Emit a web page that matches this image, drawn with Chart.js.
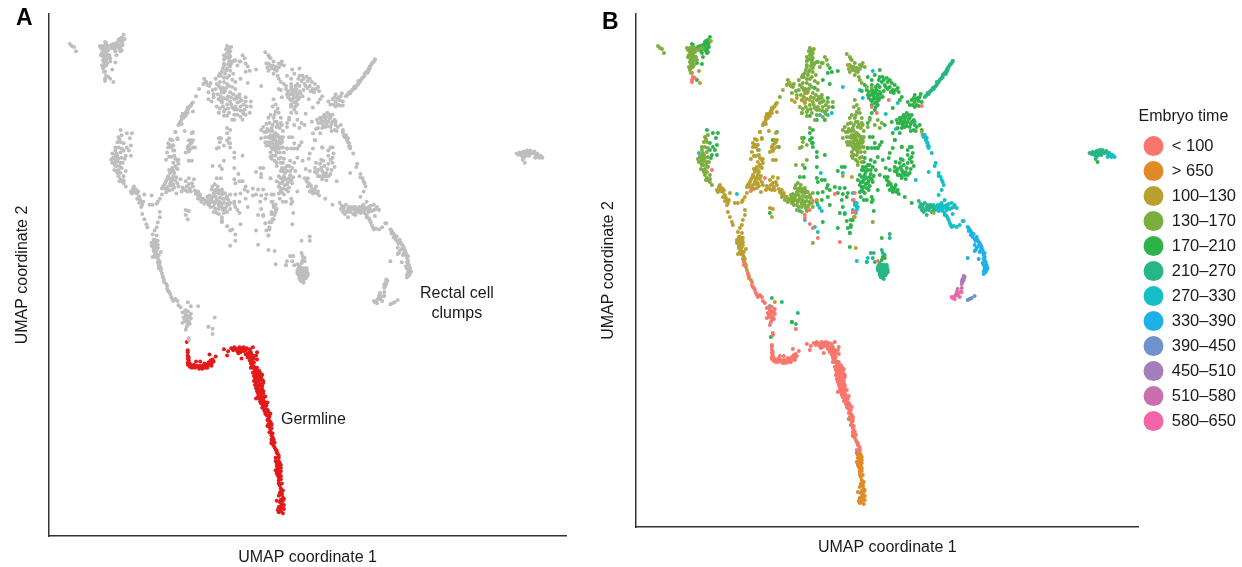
<!DOCTYPE html>
<html>
<head>
<meta charset="utf-8">
<script src="https://cdn.jsdelivr.net/npm/chart.js@4"></script>
<style>
  html, body { margin: 0; background: #fff; overflow: hidden; }
  canvas { position: absolute; top: 0; }
  #chartA { left: 0; }
  #chartB { left: 590px; }
  .note { position: absolute; font: 16px "Liberation Sans", Arial, sans-serif; color: #1a1a1a; text-align: center; line-height: 20px; }
  .tag { position: absolute; font: bold 23px "Liberation Sans", Arial, sans-serif; color: #000; }
</style>
</head>
<body>
<canvas id="chartA" width="600" height="567"></canvas>
<canvas id="chartB" width="656" height="567"></canvas>
<div class="tag" style="left:16px;top:4px">A</div>
<div class="tag" style="left:602px;top:8px">B</div>
<div class="note" style="left:420px;top:283px">Rectal cell<br>clumps</div>
<div class="note" style="left:281px;top:409px">Germline</div>
<script>
const timeLabels = ["< 100", "> 650", "100–130", "130–170", "170–210", "210–270", "270–330", "330–390", "390–450", "450–510", "510–580", "580–650"];
const timeColors = ["#F8766D", "#E08B27", "#B8A030", "#7CAE3F", "#2DB34A", "#26B784", "#16BFC6", "#20B0E8", "#6F91CE", "#A47DBB", "#C86FAC", "#F564A6"];

// umap coordinates, germline is everything below y = 192
const germlineMaxY = 192;

const under100 = [[57,450],[59,449],[56,447],[56,445],[76,357],[115,336],[129,349],[108,265],[108,262],[112,254],[115,247],[117,240],[119,237],[120,234],[122,230],[126,230],[127,226],[129,224],[131,219],[136,220],[139,218],[134,217],[132,214],[136,214],[139,213],[134,210],[137,210],[131,209],[136,207],[134,202],[137,194],[137,192],[160,198],
[136,182],[136,177],[136,174],[136,170],[136,168],[139,167],[141,166],[144,171],[148,171],[146,166],[149,165],[152,166],[155,167],[157,168],[159,169],[161,171],[163,176],[157,178],[158,172],[156,170],[137,169],[151,167],[171,183],[175,181],[174,177],[180,182],[182,184],[186,185],[189,184],[184,181],[187,180],[192,182],[196,180],[199,185],[203,180],[188,174],[194,175],[196,172],[197,169],[199,165],[201,162],[202,159],[206,160],[201,155],[204,154],[207,155],[202,150],[206,149],[209,150],[204,144],[208,144],[199,177],[200,170],
[197,165],[201,162],[203,165],[201,157],[204,159],[207,157],[202,153],[206,154],[209,152],[204,147],[207,145],[203,142],[209,142],[206,139],[202,135],[211,137],[207,134],[213,131],[209,128],[211,125],[213,124],[216,120],[212,119],[214,115],[216,112],[217,109],[216,105],[217,99],[219,95],[217,92],[222,84],[224,79],[221,77],
[199,333],[217,327],[177,326],[169,312],[169,309],[174,317],[174,303],[177,299],[182,289],[204,285],[219,334],[217,315],[253,427],[236,420],[241,414],[286,421],[218,327],[219,315],[242,266],
[198,168],[200,166],[202,163],[203,160],[205,162],[199,160],[200,157],[203,156],[205,157],[208,158],[200,152],[203,151],[205,152],[208,153],[201,148],[203,148],[206,148],[208,147],[202,145],[205,143],[207,142],[204,140],[206,141],[209,140],[204,137],[208,137],[205,135],[209,135],[206,132],[208,131],[210,132],[207,130],[210,129],[212,128],[208,126],[210,123],[212,122],[214,122],[211,120],[213,118],[215,117],[213,114],[215,113],[214,110],[217,110],[215,107],[217,106],[216,102],[218,101],[218,97],[217,95],[220,92],[219,89],[220,87],[222,82],[223,81],
[137,172],[138,169],[138,166],[140,165],[142,168],[143,165],[145,167],[147,164],[148,167],[150,164],[152,169],[153,165],[154,168],[155,165],[157,170],[159,167],[160,173],[137,175],[136,180],
[178,184],[181,185],[183,183],[185,183],[187,183],[188,182],[190,185],[185,179],[190,181],[192,178],[193,184],[195,177],[194,179],[197,175],[198,172],[200,174],[202,177],[203,173],[196,183],
[121,232],[124,232],[133,220],[135,216],[138,216],[133,212],[135,211],[138,208],[135,205],[116,242],[118,239],[113,251]];

const over650 = [[224,74],[222,69],[226,67],[224,64],[221,65],[223,60],[226,59],[224,55],[227,52],[226,44],[227,41],[224,40],[229,37],[226,36],[222,35],[227,32],[229,31],[224,29],[226,25],[228,23],[223,26],[222,72],[226,70],[224,52],
[223,71],[225,72],[224,68],[223,66],[226,64],[222,62],[225,61],[224,58],[226,56],[225,50],[226,47],[228,45],[225,43],[228,38],[225,34],[228,35],[226,30],[229,27],[224,24],[227,28]];

const t100to130 = [[63,456],[64,444],[75,486],[55,454],[141,424],[139,421],[137,419],[136,417],[134,414],[132,412],[131,410],[130,407],[128,404],[136,414],[132,409],[141,415],[124,395],[133,396],[140,394],[126,389],[121,387],[119,382],[117,380],[121,382],[137,382],[139,387],[136,380],[141,380],
[84,342],[86,339],[82,335],[87,335],[89,332],[91,327],[92,324],[87,330],[84,337],[81,337],[94,334],[91,322],[99,324],[102,324],[106,325],[107,327],[109,330],[111,334],[92,315],[94,310],[96,305],[97,302],[109,317],[109,312],[107,307],[106,302],[104,299],[102,295],[103,290],[106,289],[101,287],[104,285],[107,285],[102,284],[106,294],
[104,290],[107,289],[102,287],[106,285],[101,284],[105,282],[103,279],[110,278],[106,276],[102,273],[107,272],[107,268],[109,264],[110,260],[111,257],[112,253],[106,280],[108,270],[104,275],[113,249],[116,245],[139,225],[197,179],
[124,395],[119,388],[126,388],[117,384],[122,382],[116,375],[115,368],[124,369],[122,365],[126,367],[127,364],[124,362],[121,360],[122,357],[119,355],[126,359],[117,352],[122,352],[121,349],[116,349],[119,345],[114,345],[112,342],[117,342],[122,344],[111,340],[116,339],[121,339],[125,335],[126,345],[127,342],
[137,382],[136,379],[134,375],[139,384],[141,387],[137,367],[140,367],[137,350],[134,347],[142,349],[137,344],[141,342],[132,339],[130,337],[136,337],[139,337],[144,335],[148,334],[151,330],[134,319],[137,318],[136,310],
[216,350],[207,351],[219,310],[181,327],[147,437],[154,444],[156,427],[161,429],[166,427],[169,425],[159,425],[168,426],[169,434],[174,427],[212,462],[286,395],[220,279],[218,310],[298,314],
[138,420],[136,419],[135,416],[133,413],[131,413],[133,411],[130,410],[129,405],[130,403],[127,402],[140,423],[134,411],[83,340],[85,336],[88,337],[90,329],[93,327],[89,326],[103,288],[105,287],[103,283],[105,283],[107,282],[103,281],[105,278],[108,275],[105,273],[109,268],[108,266],[110,262],
[118,358],[120,358],[123,355],[125,351],[118,350],[120,347],[124,348],[115,347],[113,343],[118,338],[114,340],[120,343],[123,341],[118,371],[120,371],[123,372],[125,360],[127,368],[120,380],[122,377],[135,342],[138,340],[143,338],[146,337],[148,331],[131,341],[134,338],[140,345],[138,378],[137,376],[140,385]];

const t130to170 = [[22,481],[24,479],[26,478],[28,474],[51,479],[54,479],[54,475],[56,472],[54,469],[57,474],[59,475],[57,469],[54,465],[57,465],[61,467],[56,462],[57,460],[54,457],[59,479],[66,479],[67,479],[56,454],[57,480],[53,472],
[69,390],[71,385],[69,380],[66,377],[64,370],[63,365],[66,362],[67,357],[69,352],[71,349],[74,345],[76,342],[71,365],[72,360],[69,369],[67,374],[72,370],[74,352],[72,379],[66,367],[67,362],
[144,335],[146,330],[149,327],[152,325],[156,324],[161,322],[166,320],[169,322],[172,320],[164,329],[159,330],[161,335],[166,335],[169,334],[172,330],[162,344],[159,339],[164,339],[169,339],[174,332],[157,325],[162,325],[167,327],[171,326],[156,329],[166,315],[171,316],[161,317],[174,325],[177,320],[160,362],[167,362],[171,367],[177,334],[166,389],[164,379],[177,284],
[174,479],[176,477],[177,474],[174,472],[177,469],[172,467],[176,464],[179,464],[171,462],[174,457],[177,459],[169,454],[172,452],[176,450],[181,465],[189,470],[191,467],[187,464],[192,462],[184,460],[166,450],[167,444],[171,444],[166,440],[176,440],[172,435],[177,434],[182,437],[186,432],[181,427],[184,424],[177,425],[174,422],[169,424],[166,427],[187,420],[191,417],[184,417],[179,419],[172,417],[166,414],[181,412],[186,429],[192,425],[197,425],[169,434],[180,452],[182,444],
[171,470],[171,460],[167,452],[152,447],[151,442],[157,440],[164,442],[156,434],[161,432],[167,439],[144,430],[166,414],[171,415],[171,434],[174,399],[167,385],[171,382],[166,380],
[211,473],[214,470],[216,467],[219,464],[214,462],[227,464],[224,462],[221,459],[229,460],[214,455],[219,452],[224,447],[222,455],[217,457],
[219,427],[221,422],[221,415],[224,414],[226,409],[219,409],[214,409],[222,405],[226,404],[209,400],[207,397],[212,395],[217,399],[222,400],[227,402],[211,390],[216,392],[221,394],[226,390],[214,385],[219,387],[224,385],[227,385],[217,380],[222,380],[212,382],[226,380],[207,389],[242,407],[239,402],[234,407],[246,404],[232,400],[244,399],[231,440],[236,439],
[219,392],[224,390],[217,385],[222,384],[227,387],[219,380],[224,379],[216,375],[221,372],[222,362],[226,365],[229,375],[217,369],[219,390],[216,389],[221,387],[226,384],[221,377],[237,305],
[197,180],[201,165],[206,138],[213,108],[215,102],[217,91],[221,85],[201,165],[227,42],[224,28],
[52,477],[55,477],[58,477],[55,471],[58,471],[52,470],[55,467],[58,467],[60,470],[55,463],[58,462],[53,460],[55,459],[62,477],[64,478],
[66,372],[68,372],[65,364],[68,366],[70,362],[69,358],[65,358],[71,355],[68,355],[72,347],[70,347],[74,348],[66,380],[71,375],[70,388],[68,385],[67,370],[62,368],[73,365],[72,392],
[146,333],[150,330],[153,328],[155,327],[158,327],[160,327],[163,327],[166,325],[169,325],[158,322],[163,320],[166,323],[170,319],[173,322],[176,324],[160,332],[163,332],[167,331],[170,330],[163,336],[166,338],[160,342],[162,338],[165,342],[168,336],[172,335],[157,333],[155,332],[175,329],[170,336],
[175,475],[178,478],[173,476],[176,471],[174,468],[171,466],[175,461],[178,462],[173,455],[170,457],[168,450],[171,448],[174,448],[177,455],[179,446],[174,442],[168,437],[170,438],[173,438],[163,437],[160,436],[158,443],[155,441],[153,444],[163,447],[165,432],[168,430],[171,428],[175,430],[178,429],[180,432],[183,430],[186,425],[182,420],[175,418],[170,420],[164,420],[167,418],[176,414],[178,422],[188,426],[183,428],[190,422],[193,420],[187,416],[181,417],[171,411],[179,407],[187,410],[190,413],
[215,404],[218,402],[220,405],[223,402],[225,399],[210,395],[213,398],[215,396],[218,396],[220,390],[223,392],[225,387],[218,384],[220,382],[215,382],[223,382],[228,380],[218,378],[222,375],[225,375],[218,372],[216,371],[220,367],[224,369],[222,365],[226,370],[214,390],[211,385],[228,390],[228,396],[220,412],[223,418],[218,420],[216,412],[212,403],
[215,468],[218,460],[220,456],[223,450],[226,444],[216,460],[224,458],[226,461],[213,458]];

const t170to210 = [[56,483],[57,482],[62,480],[67,482],[71,484],[72,487],[74,490],[72,482],[69,480],[66,474],[71,474],[72,475],[67,470],[66,463],[61,464],[69,485],[71,478],[65,476],[61,447],
[71,397],[77,394],[82,394],[80,389],[74,384],[81,382],[77,380],[79,377],[81,372],[76,372],[75,369],[74,377],[134,314],[141,395],[137,387],[143,380],
[167,389],[174,387],[176,384],[177,380],[181,375],[181,370],[189,372],[181,360],[169,359],[164,350],[168,350],[181,349],[189,347],[186,347],[182,345],[191,339],[194,337],[199,340],[204,339],[209,339],[187,335],[182,334],[202,334],[207,333],[212,334],[192,330],[181,325],[186,327],[194,322],[206,327],[207,320],[211,330],[211,306],[204,314],[209,313],[215,300],[217,307],[212,299],[214,294],[202,299],[187,305],[206,360],[209,360],[202,356],[192,342],[156,205],[135,190],
[176,467],[182,465],[186,464],[194,459],[196,455],[192,454],[202,456],[187,447],[194,443],[179,439],[192,429],[197,420],[189,407],[181,407],[174,411],[177,397],[174,394],[176,389],[168,389],[177,384],
[244,450],[247,450],[251,449],[252,445],[256,444],[259,442],[262,439],[263,435],[257,437],[254,440],[249,442],[246,445],[242,442],[239,452],[244,457],[232,450],[236,442],[229,442],[231,437],[236,437],[241,437],[244,435],[237,434],[242,432],[232,432],[247,430],[239,429],[244,429],[235,427],[241,425],[236,422],[242,422],[239,417],[236,414],[234,409],[232,404],[226,436],[257,419],[266,430],[264,427],
[279,432],[276,427],[279,425],[282,429],[286,425],[281,422],[277,422],[284,430],[272,425],[261,407],[264,409],[267,410],[271,414],[274,409],[269,407],[266,405],[272,405],[276,405],[279,402],[267,402],[264,404],[276,412],[256,405],[249,402],[281,400],[264,394],[259,387],[266,380],[257,379],[269,400],[284,402],[286,397],[234,390],[237,390],[239,384],[244,382],[232,379],[236,379],[242,379],[257,394],
[232,379],[239,379],[242,379],[246,385],[259,387],[266,380],[276,380],[277,374],[272,372],[254,374],[253,369],[247,367],[242,370],[239,365],[234,362],[229,369],[227,360],[226,357],[232,357],[237,360],[224,352],[229,352],[234,350],[222,347],[227,345],[232,344],[237,345],[226,340],[231,339],[224,335],[229,334],[242,337],[244,352],[249,350],[251,347],[252,342],[256,340],[259,339],[254,337],[257,335],[261,335],[263,333],[269,330],[276,324],
[259,360],[264,364],[267,367],[272,364],[276,365],[261,355],[266,357],[271,359],[264,352],[269,352],[274,354],[254,357],[250,359],[236,330],[237,327],[231,327],[236,325],[238,316],[215,307],[246,289],[214,294],[214,280],[215,302],[156,205],[247,270],[246,267],[249,269],[462,365],
[68,478],[70,476],[73,480],[70,486],[73,484],[68,482],[64,481],
[233,435],[235,432],[238,431],[240,434],[238,428],[241,429],[243,427],[236,426],[239,424],[233,429],[238,436],[240,420],[245,433],[248,436],[250,440],[252,438],[255,435],[258,434],[260,437],[254,447],[248,447],[243,447],[240,440],[244,440],[236,447],
[262,404],[265,407],[268,405],[270,404],[273,408],[275,403],[278,407],[268,412],[270,410],[273,412],[271,401],[274,400],[266,399],[262,399],[278,397],[280,396],[275,396],[281,428],[283,426],[278,429],[274,422],[283,421],[279,420],[285,433],
[228,357],[230,360],[232,362],[235,357],[228,347],[231,349],[233,346],[236,348],[230,343],[234,341],[228,340],[225,345],[224,342],[227,336],[233,337],[235,353],[230,355],[238,351],[226,350],[228,365],[235,367],[240,357],[225,330],[228,327],
[253,345],[255,343],[257,338],[252,350],[258,336],[260,342],[262,337],
[259,356],[262,358],[265,360],[268,362],[270,355],[272,352],[275,358],[278,361],[262,352],[267,355],[260,365],[265,368],[274,368],[276,370],[272,377],[270,348],[266,349]];

const t210to270 = [[136,229],[146,225],[162,214],[160,203],[254,293],[254,289],[274,380],
[291,432],[294,435],[297,439],[301,442],[304,447],[307,452],[311,457],[314,462],[317,466],[306,449],[309,454],[312,459],[302,444],[299,440],[296,437],[292,434],[289,430],[310,455],[313,460],[307,450],
[283,326],[284,320],[287,319],[291,320],[294,319],[289,324],[297,320],[288,315],[291,312],[296,315],
[242,260],[244,264],[247,262],[251,260],[242,257],[246,259],[249,257],[252,257],[244,254],[247,254],[251,254],[246,250],[249,252],[245,255],[247,256],[248,259],[243,259],[250,255],[251,259],[246,252],[247,249],[235,274],[238,274],[237,269],[239,265],[231,265],[246,277],[247,274],[249,272],
[454,374],[457,375],[461,376],[464,377],[467,377],[471,376],[459,372],[462,374],[466,374],[469,374],[461,370],
[290,431],[293,433],[295,436],[298,438],[300,441],[303,445],[305,448],[308,453],[310,453],[311,455],[312,457],[315,463],[316,464],
[243,256],[244,258],[245,260],[246,262],[247,258],[248,256],[249,260],[250,258],[245,253],[248,251],[250,252],[243,262],[252,255],[247,260],[249,262],[251,262],[245,250],[248,248],[246,256],[244,252],
[285,323],[286,317],[290,317],[293,317],[292,322],[295,322],[298,317],[287,322],
[456,373],[458,374],[460,375],[463,375],[465,376],[468,375],[470,375],[472,374],[463,372],[466,372],[460,368]];

const t270to330 = [[56,464],[63,374],[64,370],[134,221],[123,377],[101,333],[185,354],[207,354],[186,316],[184,319],[182,322],[219,324],[221,320],[217,317],[220,314],[209,314],[164,316],[169,307],[179,300],[182,295],[207,440],[189,415],[184,412],[196,414],[192,412],[301,445],[317,466],[287,392],[291,389],[292,384],[293,379],[279,405],[237,456],[227,429],[224,437],[262,424],[250,413],[260,398],[268,354],[267,352],[229,350],[226,337],[217,334],[221,324],[219,322],[222,320],[221,317],[217,315],[280,347],[249,254],[232,269],[221,266],[231,265],
[287,392],[290,389],[291,385],[293,381],[296,374],[300,364],[299,361],[293,355],[303,354],[305,350],[307,345],[308,342],[306,337],[303,332],
[299,320],[302,322],[306,324],[309,327],[311,322],[307,319],[304,317],[301,319],[311,317],[316,324],[319,322],[321,319],[316,319],[317,313],[309,314],[312,309],[314,304],[316,300],[321,300],[324,302],[327,306],[328,306],[474,374],[477,372],[479,370],[476,370],[473,372],[472,370],
[300,317],[302,320],[304,320],[306,321],[308,321],[305,323],[310,319],[303,316],[307,316],[298,322],[312,320],[313,323],[314,318],[318,320],[309,312],[311,311],[313,307],[315,302],[318,301],[288,390],[289,392],[290,387],[292,381],[303,351],[306,347],[476,372],[478,371],[475,372],[474,371]];

const t330to390 = [[332,300],[334,297],[336,294],[337,290],[341,290],[339,282],[342,287],[344,284],[346,280],[341,279],[339,276],[347,277],[344,275],[349,274],[349,270],[332,269],[343,268],[350,265],[347,264],[351,262],[349,259],[351,257],[348,253],[346,277],
[333,299],[335,296],[335,292],[338,293],[339,288],[340,286],[343,285],[343,281],[345,282],[340,277],[345,277],[347,275],[348,272],[348,268],[349,267],[350,262],[350,260],[348,262],[352,259],[350,255],[348,256],[333,296]];
const t390to450 = [[332,227],[336,229],[339,231],[334,228]];
const t450to510 = [[329,250],[327,248],[327,245],[221,74],[328,247],[328,249],[326,246],[328,251]];
const t510to580 = [[326,243],[322,238],[326,239],[320,232]];
const t580to650 = [[323,234],[326,235],[316,230],[319,228],[322,232],[325,235],[324,230],[224,77],[321,235],[318,230],[317,229]];

const timeSeries = [under100, over650, t100to130, t130to170, t170to210, t210to270, t270to330, t330to390, t390to450, t450to510, t510to580, t580to650];

const fontFamily = '"Liberation Sans", Arial, sans-serif';
const axisColor = "#333333";

function toPoints(list) {
  return list.map((p) => ({ x: p[0], y: p[1] }));
}

function axes(xRange, yRange, xHeight, yWidth, xPad, yPad) {
  const titleFont = { family: fontFamily, size: 16 };
  return {
    x: {
      type: "linear", min: xRange[0], max: xRange[1],
      grid: { display: false },
      border: { color: axisColor, width: 1.5 },
      ticks: { display: false },
      title: { display: true, text: "UMAP coordinate 1", color: "#1a1a1a", font: titleFont, padding: xPad },
      afterFit: (s) => { s.height = xHeight; },
    },
    y: {
      type: "linear", min: yRange[0], max: yRange[1],
      grid: { display: false },
      border: { color: axisColor, width: 1.5 },
      ticks: { display: false },
      title: { display: true, text: "UMAP coordinate 2", color: "#1a1a1a", font: titleFont, padding: yPad },
      afterFit: (s) => { s.width = yWidth; },
    },
  };
}

const allPoints = timeSeries.flat();
const grayPoints = allPoints.filter((p) => p[1] >= germlineMaxY);
const germline = allPoints.filter((p) => p[1] < germlineMaxY);

new Chart(document.getElementById("chartA"), {
  type: "scatter",
  data: {
    datasets: [
      { data: toPoints(grayPoints), backgroundColor: "#BEBEBE", pointRadius: 2, pointBorderWidth: 0 },
      { data: toPoints(germline), backgroundColor: "#E31A1C", pointRadius: 2, pointBorderWidth: 0 },
    ],
  },
  options: {
    responsive: false,
    animation: false,
    layout: { padding: { top: 14, right: 34, left: 0, bottom: 0 } },
    plugins: { legend: { display: false }, tooltip: { enabled: false } },
    scales: axes([1.8, 501.8], [0.7, 510.3], 31, 49, { top: 0, bottom: 0 }, { top: 13, bottom: 0 }),
  },
});

new Chart(document.getElementById("chartB"), {
  type: "scatter",
  data: {
    datasets: timeSeries.map((list, i) => ({
      label: timeLabels[i],
      data: toPoints(list),
      backgroundColor: timeColors[i],
      pointRadius: 2,
      pointBorderWidth: 0,
    })),
  },
  options: {
    responsive: false,
    animation: false,
    // bottom padding lifts the legend, the axis title is pulled back down with a negative padding
    layout: { padding: { top: 14, right: 0, left: 0, bottom: 36 } },
    plugins: {
      tooltip: { enabled: false },
      legend: {
        position: "right",
        align: "center",
        title: { display: true, text: "Embryo time", color: "#1a1a1a", position: "start", font: { family: fontFamily, size: 16 }, padding: { top: 0, bottom: 3 } },
        labels: {
          useBorderRadius: true,
          borderRadius: 10,
          boxWidth: 20,
          boxHeight: 20,
          padding: 5,
          color: "#1a1a1a",
          font: { family: fontFamily, size: 16.5 },
        },
      },
    },
    scales: axes([0, 503], [0, 513], 4, 46, { top: 0, bottom: -26 }, { top: 9, bottom: 0 }),
  },
});
</script>
</body>
</html>
